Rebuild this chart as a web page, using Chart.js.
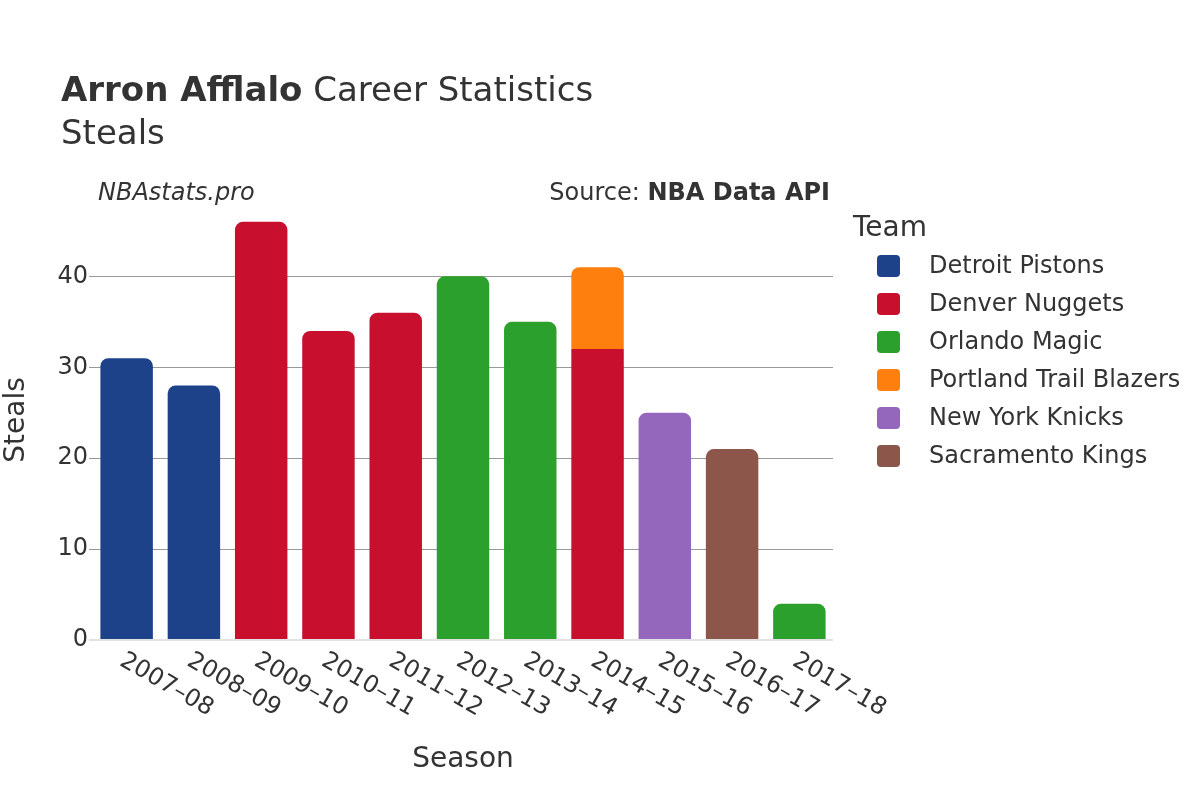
<!DOCTYPE html>
<html>
<head>
<meta charset="utf-8">
<script src="https://cdn.jsdelivr.net/npm/chart.js@4.4.0/dist/chart.umd.min.js"></script>
<style>
  html, body { margin: 0; padding: 0; background: #fff; }
  #wrap { width: 1200px; height: 800px; }
</style>
</head>
<body>
<div id="wrap"><canvas id="steals" width="1200" height="800"></canvas></div>
<script>
// ===========================================
// Data
// ===========================================
var seasons = ["2007–08", "2008–09", "2009–10", "2010–11", "2011–12", "2012–13",
	"2013–14", "2014–15", "2015–16", "2016–17", "2017–18"];

var detroit    = [31, 28, null, null, null, null, null, null, null, null, null];
var denver     = [null, null, 46, 34, 36, null, null, 32, null, null, null];
var orlando    = [null, null, null, null, null, 40, 35, null, null, null, 4];
var portland   = [null, null, null, null, null, null, null, 9, null, null, null];
var newyork    = [null, null, null, null, null, null, null, null, 25, null, null];
var sacramento = [null, null, null, null, null, null, null, null, null, 21, null];

var teams = ["Detroit Pistons", "Denver Nuggets", "Orlando Magic",
	"Portland Trail Blazers", "New York Knicks", "Sacramento Kings"];
var teamColors = ["#1d428a", "#c8102e", "#2ca02c", "#ff7f0e", "#9467bd", "#8c564b"];

var yTicks = [0, 10, 20, 30, 40];

// ===========================================
// Helpers
// ===========================================
var FONT = "'DejaVu Sans', sans-serif";
var TEXT = "#333";

function isTopSegment(ctx) {
	var sets = ctx.chart.data.datasets;
	for (var k = ctx.datasetIndex + 1; k < sets.length; k++) {
		if (sets[k].data[ctx.dataIndex]) return false;
	}
	return true;
}

function makeSet(i, data) {
	return {
		label: teams[i],
		data: data,
		backgroundColor: teamColors[i],
		borderWidth: 0,
		barPercentage: 0.78,
		categoryPercentage: 1,
		borderRadius: function (ctx) {
			return isTopSegment(ctx) ? { topLeft: 8, topRight: 8, bottomLeft: 0, bottomRight: 0 } : 0;
		},
		borderSkipped: false
	};
}

// texts drawn around the plot: titles, legend, rotated season labels
var decorations = {
	id: 'decorations',
	afterDraw: function (chart) {
		var c = chart.ctx;
		c.save();
		c.fillStyle = TEXT;
		c.textBaseline = 'alphabetic';

		// title
		c.textAlign = 'left';
		c.font = "bold 34px " + FONT;
		c.fillText("Arron Afflalo", 61, 101);
		var w = c.measureText("Arron Afflalo").width;
		c.font = "34px " + FONT;
		c.fillText(" Career Statistics", 61 + w, 101);
		c.fillText("Steals", 61, 144);

		// credits
		c.font = "italic 24px " + FONT;
		c.fillText("NBAstats.pro", 98, 200);
		c.textAlign = 'right';
		c.font = "bold 24px " + FONT;
		c.fillText("NBA Data API", 830, 200);
		var bw = c.measureText("NBA Data API").width;
		c.font = "24px " + FONT;
		c.fillText("Source: ", 830 - bw, 200);

		// legend
		c.textAlign = 'left';
		c.font = "28px " + FONT;
		c.fillText("Team", 853, 236);
		c.font = "24px " + FONT;
		c.textBaseline = 'middle';
		for (var i = 0; i < teams.length; i++) {
			var y = 266 + i * 38;
			c.fillStyle = teamColors[i];
			c.beginPath();
			c.roundRect(877, y - 11, 23, 22, 4);
			c.fill();
			c.fillStyle = TEXT;
			c.fillText(teams[i], 929, y + 1);
		}

		// season labels, rotated like the original
		var xs = chart.scales.x;
		c.font = "24px " + FONT;
		for (var j = 0; j < seasons.length; j++) {
			var x = xs.getPixelForTick(j);
			c.save();
			c.translate(x - 5, 659);
			c.rotate(Math.PI / 6);
			c.textAlign = 'left';
			c.textBaseline = 'middle';
			c.fillText(seasons[j], 0, 0);
			c.restore();
		}
		c.restore();
	}
};

// ===========================================
// Chart
// ===========================================
var ctx = document.getElementById("steals").getContext('2d');

new Chart(ctx, {
	type: 'bar',
	data: {
		labels: seasons,
		datasets: [
			makeSet(0, detroit),
			makeSet(1, denver),
			makeSet(2, orlando),
			makeSet(3, portland),
			makeSet(4, newyork),
			makeSet(5, sacramento)
		]
	},
	options: {
		responsive: false,
		animation: false,
		layout: { padding: { top: 200, right: 367, left: 0, bottom: 0 } },
		plugins: {
			legend: { display: false },
			tooltip: { enabled: false }
		},
		scales: {
			x: {
				stacked: true,
				grid: { display: false },
				border: { display: false },
				ticks: { display: false },
				title: {
					display: true,
					text: "Season",
					color: TEXT,
					font: { family: FONT, size: 28 },
					padding: { top: 0, bottom: 23 }
				},
				afterFit: function (scale) { scale.height = 160; }
			},
			y: {
				stacked: true,
				min: 0,
				max: 48.4,
				afterBuildTicks: function (scale) {
					scale.ticks = yTicks.map(function (v) { return { value: v }; });
				},
				ticks: {
					color: TEXT,
					font: { family: FONT, size: 24 },
					padding: 1
				},
				grid: {
					color: function (c) { return c.tick && c.tick.value === 0 ? '#e3e3e3' : '#999'; },
					lineWidth: function (c) { return c.tick && c.tick.value === 0 ? 2 : 1; },
					tickLength: 4
				},
				border: { display: false },
				title: {
					display: true,
					text: "Steals",
					color: TEXT,
					font: { family: FONT, size: 28 },
					padding: { top: 0, bottom: 0 }
				},
				afterFit: function (scale) { scale.width = 93; }
			}
		}
	},
	plugins: [decorations]
});
</script>
</body>
</html>
